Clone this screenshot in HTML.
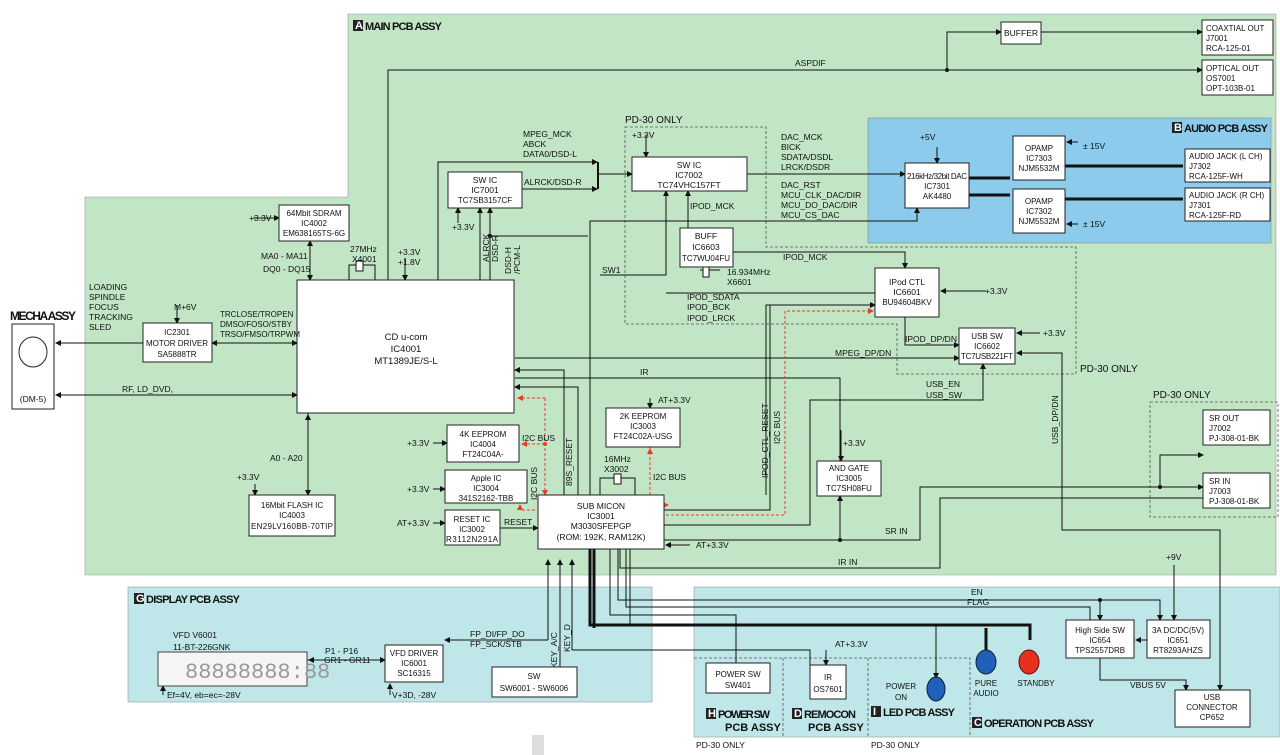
<!DOCTYPE html>
<html><head><meta charset="utf-8"><style>
html,body{margin:0;padding:0;background:#fff;}
svg{display:block;font-family:"Liberation Sans",sans-serif;}
text{font-size:8.5px;fill:#111;}
.s{font-size:8px;}
.b{fill:#fff;stroke:#222;stroke-width:1;}
.l{stroke:#111;stroke-width:1;fill:none;}
.t{stroke:#111;stroke-width:3;fill:none;}
.d{stroke:#555;stroke-width:0.8;stroke-dasharray:3,2;fill:none;}
.r{stroke:#e83a2a;stroke-width:1;stroke-dasharray:3,2;fill:none;}
.h{font-size:11px;font-weight:bold;}
</style></head><body>
<svg width="1280" height="755" viewBox="0 0 1280 755">
<defs>
<marker id="a" markerWidth="6" markerHeight="6" refX="5" refY="3" orient="auto"><path d="M0,0L6,3L0,6z" fill="#111"/></marker>
<marker id="ra" markerWidth="6" markerHeight="6" refX="5" refY="3" orient="auto"><path d="M0,0L6,3L0,6z" fill="#e83a2a"/></marker>
</defs>
<path d="M348,14H1276V575H85V197H348Z" fill="#c1e5c5" stroke="#999" stroke-width="0.6"/>
<rect x="868" y="118" width="403" height="125" fill="#8ccbec" stroke="#888" stroke-width="0.6"/>
<rect x="128" y="587" width="524" height="115" fill="#bfe6e8" stroke="#999" stroke-width="0.6"/>
<rect x="694" y="587" width="586" height="150" fill="#bfe6e8" stroke="#999" stroke-width="0.6"/>
<path class="d" d="M694,658H970V737M783,658V737M868,658V737"/>
<rect x="532" y="735" width="12" height="20" fill="#ddd"/>
<rect x="353" y="20" width="10" height="11" fill="#222"/><text x="355" y="29" class="h" style="fill:#fff">A</text><text x="365" y="30" class="h" textLength="77">MAIN PCB ASSY</text>
<rect x="1172" y="122" width="10" height="11" fill="#222"/><text x="1174" y="131" class="h" style="fill:#fff">B</text><text x="1184" y="132" class="h" textLength="84">AUDIO PCB ASSY</text>
<rect x="134" y="593" width="10" height="11" fill="#222"/><text x="136" y="602" class="h" style="fill:#fff">G</text><text x="146" y="603" class="h" textLength="94">DISPLAY PCB ASSY</text>
<rect x="972" y="717" width="10" height="11" fill="#222"/><text x="974" y="726" class="h" style="fill:#fff">C</text><text x="984" y="727" class="h" textLength="110">OPERATION PCB ASSY</text>
<rect x="706" y="708" width="10" height="11" fill="#222"/><text x="708" y="717" class="h" style="fill:#fff">H</text><text x="718" y="718" class="h" textLength="52">POWER SW</text><text x="725" y="731" class="h">PCB ASSY</text>
<rect x="792" y="708" width="10" height="11" fill="#222"/><text x="794" y="717" class="h" style="fill:#fff">D</text><text x="804" y="718" class="h" textLength="52">REMOCON</text><text x="808" y="731" class="h">PCB ASSY</text>
<rect x="871" y="706" width="10" height="11" fill="#222"/><text x="873" y="715" class="h" style="fill:#fff">I</text><text x="883" y="716" class="h" textLength="72">LED PCB ASSY</text>
<text x="10" y="320" class="h" style="font-size:12px" textLength="66">MECHA ASSY</text>
<text x="696" y="748">PD-30 ONLY</text><text x="871" y="748">PD-30 ONLY</text>
<text x="625" y="123" style="font-size:10px">PD-30 ONLY</text>
<text x="1080" y="372" style="font-size:10px">PD-30 ONLY</text>
<text x="1153" y="398" style="font-size:10px">PD-30 ONLY</text>
<path class="d" d="M625,127H766V247H1076V374H897V324H625Z"/>
<rect class="d" x="1150" y="402" width="128" height="115"/>
<g class="l">
<path d="M388,280V70H1202" marker-end="url(#a)"/>
<path d="M947,70V32H1001" marker-end="url(#a)"/>
<path d="M1041,32H1202" marker-end="url(#a)"/>
<path d="M438,280V162H597" marker-end="url(#a)"/>
<path d="M522,189H597" marker-end="url(#a)"/>
<path d="M598,162V189" style="stroke-width:2"/>
<path d="M598,174H632" marker-end="url(#a)"/>
<path d="M747,174H905" marker-end="url(#a)"/>
<path d="M590,495V221H917V208" marker-end="url(#a)"/>
<path d="M937,147V163" marker-end="url(#a)"/>
<path d="M1078,142H1067" marker-end="url(#a)"/>
<path d="M1078,224H1067" marker-end="url(#a)"/>
<path d="M646,135V157" marker-end="url(#a)"/>
<path d="M600,275H666V191" marker-end="url(#a)"/>
<path d="M875,293H666"/>
<path d="M688,228V191" marker-end="url(#a)"/>
<path d="M733,252H905V268" marker-end="url(#a)"/>
<path d="M986,291H941" marker-end="url(#a)"/>
<path d="M1040,333H1017" marker-end="url(#a)"/>
<path d="M905,317V345H959" marker-end="url(#a)"/>
<path d="M515,358H959" marker-end="url(#a)"/>
<path d="M1062,365V353H1017" marker-end="url(#a)"/>
<path d="M1062,365V530H1220V690" marker-end="url(#a)"/>
<path d="M766,495V305H875" marker-end="url(#a)"/>
<path d="M664,510H770V305"/>
<path d="M515,378H840V461"/>
<path d="M664,525H810V400H983V364" marker-end="url(#a)"/>
<path d="M841,430V461" marker-end="url(#a)"/>
<path d="M664,540H920V487H1203" marker-end="url(#a)"/>
<path d="M1160,487V455H1203" marker-end="url(#a)"/>
<path d="M840,540V496" marker-end="url(#a)"/>
<path d="M1203,498H940V568H620V549"/>
<path d="M578,495V387H515" marker-end="url(#a)"/>
<path d="M564,495V370H515" marker-end="url(#a)"/>
<path d="M310,241V280" marker-end="url(#a)"/><path d="M310,275V241" marker-end="url(#a)"/>
<path d="M253,218H279" marker-end="url(#a)"/>
<path d="M405,258V280" marker-end="url(#a)"/>
<path d="M458,223V208" marker-end="url(#a)"/>
<path d="M480,280V208" marker-end="url(#a)"/>
<path d="M490,280V208" marker-end="url(#a)"/>
<path d="M490,236H588"/>
<path d="M349,280V265H375V280"/><rect x="356" y="261" width="7" height="10" fill="#fff"/>
<path d="M143,343H56" marker-end="url(#a)"/>
<path d="M214,343H297" marker-end="url(#a)"/><path d="M290,343H212" marker-end="url(#a)"/>
<path d="M177,305V323" marker-end="url(#a)"/>
<path d="M60,395H297" marker-end="url(#a)"/><path d="M290,395H56" marker-end="url(#a)"/>
<path d="M308,413V495" marker-end="url(#a)"/><path d="M308,490V415" marker-end="url(#a)"/>
<path d="M255,484V495" marker-end="url(#a)"/>
<path d="M433,443H447" marker-end="url(#a)"/>
<path d="M433,489H445" marker-end="url(#a)"/>
<path d="M433,523H445" marker-end="url(#a)"/>
<path d="M500,528H538" marker-end="url(#a)"/>
<path d="M650,398V408" marker-end="url(#a)"/>
<path d="M600,495V478H635V495"/><rect x="614" y="474" width="7" height="10" fill="#fff"/>
<path d="M690,545H666" marker-end="url(#a)"/>
<path d="M700,270H720"/><rect x="703" y="267" width="6" height="10" fill="#fff"/>
<path d="M548,640V560" marker-end="url(#a)"/>
<path d="M548,640H445" marker-end="url(#a)"/>
<path d="M560,697V560" marker-end="url(#a)"/>
<path d="M572,650V560" marker-end="url(#a)"/>
<path d="M572,650H810V665"/>
<path d="M610,549V615H736V663"/>
<path d="M618,549V600H1160V620" marker-end="url(#a)"/>
<path d="M1100,600V620" marker-end="url(#a)"/>
<path d="M626,549V607H1090V620"/>
<path d="M630,549V625H936V678" marker-end="url(#a)"/>
<path d="M826,650V665" marker-end="url(#a)"/>
<path d="M1174,565V620" marker-end="url(#a)"/>
<path d="M1147,640H1136" marker-end="url(#a)"/>
<path d="M1100,658V680H1186V690" marker-end="url(#a)"/>
<path d="M200,660H385" marker-end="url(#a)"/><path d="M380,660H309" marker-end="url(#a)"/>
<path d="M390,695V684" marker-end="url(#a)"/>
<path d="M163,695V686" marker-end="url(#a)"/>
</g>
<g class="t">
<path d="M590,549V625H1030V640"/>
<path d="M594,549V628"/>
<path d="M986,628V650"/>
<path d="M969,178H1010"/><path d="M969,195H1010"/>
<path d="M1065,166H1183"/><path d="M1065,199H1183"/>
</g>
<g class="r">
<path d="M545,398V495" marker-end="url(#ra)"/>
<path d="M545,398H518" marker-end="url(#ra)"/>
<path d="M545,444H522" marker-end="url(#ra)"/>
<path d="M535,510H520V505" marker-end="url(#ra)"/>
<path d="M650,447V505H668" marker-end="url(#ra)"/>
<path d="M650,485V449" marker-end="url(#ra)"/>
<path d="M666,515H785V311H873" marker-end="url(#ra)"/>
</g>
<g fill="#111"><circle cx="947" cy="70" r="2"/><circle cx="490" cy="236" r="2"/><circle cx="1160" cy="487" r="2"/><circle cx="840" cy="540" r="2"/><circle cx="1100" cy="600" r="2"/><circle cx="545" cy="444" r="2" fill="#e83a2a"/></g>
<g class="b">
<rect x="1001" y="22" width="40" height="22"/>
<rect x="1202" y="20" width="71" height="35"/>
<rect x="1202" y="60" width="71" height="35"/>
<rect x="632" y="157" width="115" height="34"/>
<rect x="448" y="172" width="74" height="36"/>
<rect x="279" y="205" width="70" height="36"/>
<rect x="297" y="280" width="217" height="133"/>
<rect x="143" y="323" width="69" height="39"/>
<rect x="12" y="324" width="42" height="85"/>
<rect x="905" y="163" width="64" height="45"/>
<rect x="1013" y="136" width="52" height="44"/>
<rect x="1013" y="189" width="52" height="44"/>
<rect x="1185" y="149" width="85" height="33"/>
<rect x="1185" y="188" width="85" height="33"/>
<rect x="680" y="228" width="53" height="39"/>
<rect x="875" y="268" width="64" height="49"/>
<rect x="959" y="328" width="56" height="36"/>
<rect x="606" y="408" width="74" height="39"/>
<rect x="447" y="425" width="72" height="37"/>
<rect x="445" y="470" width="82" height="33"/>
<rect x="445" y="510" width="55" height="35"/>
<rect x="538" y="495" width="126" height="54"/>
<rect x="817" y="461" width="64" height="35"/>
<rect x="249" y="495" width="86" height="41"/>
<rect x="1203" y="410" width="67" height="35"/>
<rect x="1203" y="473" width="67" height="35"/>
<rect x="1066" y="620" width="68" height="38"/>
<rect x="1147" y="620" width="63" height="38"/>
<rect x="1175" y="690" width="75" height="37"/>
<rect x="385" y="645" width="58" height="37"/>
<rect x="492" y="667" width="85" height="30"/>
<rect x="706" y="663" width="64" height="30"/>
<rect x="810" y="665" width="36" height="34"/>
<rect x="158" y="652" width="149" height="34" style="fill:#f5f5f5;stroke:#444"/>
</g>
<ellipse cx="33" cy="352" rx="14" ry="15" fill="#fff" stroke="#222"/>
<ellipse cx="936" cy="689" rx="9" ry="12" fill="#2060b8" stroke="#123"/>
<ellipse cx="986" cy="662" rx="10" ry="12" fill="#2060b8" stroke="#123"/>
<ellipse cx="1029" cy="662" rx="10" ry="12" fill="#e8301e" stroke="#511"/>
<text x="185" y="678" style="font-size:22px;fill:#999;font-family:'Liberation Mono'">88888888:88</text>
<g text-anchor="middle">
<text x="1021" y="36">BUFFER</text>
<text x="406" y="340" style="font-size:9.5px">CD u-com</text><text x="406" y="352" style="font-size:9.5px">IC4001</text><text x="406" y="364" style="font-size:9.5px">MT1389JE/S-L</text>
<text x="689" y="168">SW  IC</text><text x="689" y="178">IC7002</text><text x="689" y="188">TC74VHC157FT</text>
<text x="485" y="183">SW  IC</text><text x="485" y="193">IC7001</text><text x="485" y="203" class="s">TC7SB3157CF</text>
<text x="314" y="216" class="s">64Mbit SDRAM</text><text x="314" y="226" class="s">IC4002</text><text x="314" y="236" class="s">EM638165TS-6G</text>
<text x="177" y="335" class="s">IC2301</text><text x="177" y="346" class="s">MOTOR DRIVER</text><text x="177" y="357" class="s">SA5888TR</text>
<text x="33" y="402">(DM-5)</text>
<text x="937" y="179" class="s" textLength="60">216kHz/32bit DAC</text><text x="937" y="189" class="s">IC7301</text><text x="937" y="199" class="s">AK4480</text>
<text x="1039" y="151" class="s">OPAMP</text><text x="1039" y="161" class="s">IC7303</text><text x="1039" y="171" class="s">NJM5532M</text>
<text x="1039" y="204" class="s">OPAMP</text><text x="1039" y="214" class="s">IC7302</text><text x="1039" y="224" class="s">NJM5532M</text>
<text x="706" y="239">BUFF</text><text x="706" y="250">IC6603</text><text x="706" y="261" class="s">TC7WU04FU</text>
<text x="907" y="285">IPod CTL</text><text x="907" y="295">IC6601</text><text x="907" y="305" class="s">BU94604BKV</text>
<text x="987" y="339" class="s">USB SW</text><text x="987" y="349" class="s">IC6602</text><text x="987" y="359" class="s" textLength="52">TC7USB221FT</text>
<text x="643" y="419" class="s">2K EEPROM</text><text x="643" y="429" class="s">IC3003</text><text x="643" y="439" class="s">FT24C02A-USG</text>
<text x="483" y="437" class="s">4K EEPROM</text><text x="483" y="447" class="s">IC4004</text><text x="483" y="457" class="s">FT24C04A-</text>
<text x="486" y="481" class="s">Apple IC</text><text x="486" y="491" class="s">IC3004</text><text x="486" y="501" class="s">341S2162-TBB</text>
<text x="472" y="522" class="s">RESET IC</text><text x="472" y="532" class="s">IC3002</text><text x="472" y="542" class="s" textLength="52">R3112N291A</text>
<text x="601" y="509">SUB MICON</text><text x="601" y="519">IC3001</text><text x="601" y="529">M3030SFEPGP</text><text x="601" y="540">(ROM: 192K, RAM12K)</text>
<text x="849" y="471" class="s">AND GATE</text><text x="849" y="481" class="s">IC3005</text><text x="849" y="491" class="s">TC7SH08FU</text>
<text x="292" y="508" class="s">16Mbit FLASH IC</text><text x="292" y="518" class="s">IC4003</text><text x="292" y="529" class="s" textLength="82">EN29LV160BB-70TIP</text>
<text x="1100" y="633" class="s">High Side SW</text><text x="1100" y="643" class="s">IC654</text><text x="1100" y="653" class="s">TPS2557DRB</text>
<text x="1178" y="633" class="s">3A DC/DC(5V)</text><text x="1178" y="643" class="s">IC651</text><text x="1178" y="653" class="s">RT8293AHZS</text>
<text x="1212" y="700" class="s">USB</text><text x="1212" y="710" class="s">CONNECTOR</text><text x="1212" y="720" class="s">CP652</text>
<text x="414" y="656" class="s">VFD DRIVER</text><text x="414" y="666" class="s">IC6001</text><text x="414" y="676" class="s">SC16315</text>
<text x="534" y="679" class="s">SW</text><text x="534" y="691" class="s">SW6001 - SW6006</text>
<text x="738" y="677" class="s">POWER SW</text><text x="738" y="688" class="s">SW401</text>
<text x="828" y="680" class="s">IR</text><text x="828" y="692" class="s">OS7601</text>
<text x="901" y="689" class="s">POWER</text><text x="901" y="700" class="s">ON</text>
<text x="986" y="686" class="s">PURE</text><text x="986" y="696" class="s">AUDIO</text>
<text x="1036" y="686" class="s">STANDBY</text>
</g>
<g class="s">
<text x="1206" y="31" class="s">COAXTIAL OUT</text><text x="1206" y="41" class="s">J7001</text><text x="1206" y="51" class="s">RCA-125-01</text>
<text x="1206" y="71" class="s">OPTICAL OUT</text><text x="1206" y="81" class="s">OS7001</text><text x="1206" y="91" class="s">OPT-103B-01</text>
<text x="1189" y="159" class="s">AUDIO JACK (L CH)</text><text x="1189" y="169" class="s">J7302</text><text x="1189" y="179" class="s">RCA-125F-WH</text>
<text x="1189" y="198" class="s">AUDIO JACK (R CH)</text><text x="1189" y="208" class="s">J7301</text><text x="1189" y="218" class="s">RCA-125F-RD</text>
<text x="1209" y="421" class="s">SR  OUT</text><text x="1209" y="431" class="s">J7002</text><text x="1209" y="441" class="s">PJ-308-01-BK</text>
<text x="1209" y="484" class="s">SR  IN</text><text x="1209" y="494" class="s">J7003</text><text x="1209" y="504" class="s">PJ-308-01-BK</text>
</g>
<g>
<text x="795" y="66">ASPDIF</text>
<text x="523" y="137">MPEG_MCK</text><text x="523" y="147">ABCK</text><text x="523" y="157">DATA0/DSD-L</text>
<text x="524" y="185">ALRCK/DSD-R</text>
<text x="781" y="140">DAC_MCK</text><text x="781" y="150">BICK</text><text x="781" y="160">SDATA/DSDL</text><text x="781" y="170">LRCK/DSDR</text>
<text x="781" y="188">DAC_RST</text><text x="781" y="198">MCU_CLK_DAC/DIR</text><text x="781" y="208">MCU_DO_DAC/DIR</text><text x="781" y="218">MCU_CS_DAC</text>
<text x="920" y="140">+5V</text><text x="1083" y="149">± 15V</text><text x="1083" y="227">± 15V</text>
<text x="632" y="138">+3.3V</text>
<text x="690" y="209">IPOD_MCK</text>
<text x="783" y="260">IPOD_MCK</text>
<text x="727" y="275">16.934MHz</text><text x="727" y="285">X6601</text>
<text x="687" y="300">IPOD_SDATA</text><text x="687" y="310">IPOD_BCK</text><text x="687" y="321">IPOD_LRCK</text>
<text x="602" y="273">SW1</text>
<text x="985" y="294">+3.3V</text>
<text x="1043" y="336">+3.3V</text>
<text x="905" y="342">IPOD_DP/DN</text>
<text x="835" y="356">MPEG_DP/DN</text>
<text x="640" y="375">IR</text>
<text x="926" y="387">USB_EN</text><text x="926" y="398">USB_SW</text>
<text x="658" y="403">AT+3.3V</text>
<text x="843" y="446">+3.3V</text>
<text x="604" y="462">16MHz</text><text x="604" y="472">X3002</text>
<text x="653" y="480">I2C BUS</text>
<text x="696" y="548">AT+3.3V</text>
<text x="885" y="534">SR IN</text>
<text x="838" y="565">IR IN</text>
<text x="1166" y="560">+9V</text>
<text x="971" y="595">EN</text><text x="967" y="605">FLAG</text>
<text x="1130" y="688">VBUS 5V</text>
<text x="835" y="647">AT+3.3V</text>
<text x="249" y="221">+3.3V</text>
<text x="261" y="259">MA0 - MA11</text><text x="263" y="272">DQ0 - DQ15</text>
<text x="350" y="252">27MHz</text><text x="352" y="262">X4001</text>
<text x="398" y="255">+3.3V</text><text x="398" y="265">+1.8V</text>
<text x="452" y="230">+3.3V</text>
<text x="89" y="290">LOADING</text><text x="89" y="300">SPINDLE</text><text x="89" y="310">FOCUS</text><text x="89" y="320">TRACKING</text><text x="89" y="330">SLED</text>
<text x="174" y="310">M+6V</text>
<text x="220" y="317" class="s">TRCLOSE/TROPEN</text><text x="220" y="327" class="s">DMSO/FOSO/STBY</text><text x="220" y="337" class="s">TRSO/FMSO/TRPWM</text>
<text x="122" y="392">RF, LD_DVD,</text>
<text x="270" y="461">A0 - A20</text>
<text x="237" y="480">+3.3V</text>
<text x="407" y="446">+3.3V</text><text x="407" y="492">+3.3V</text><text x="397" y="526">AT+3.3V</text>
<text x="504" y="525">RESET</text>
<text x="522" y="441">I2C BUS</text>
<text x="173" y="638">VFD   V6001</text><text x="173" y="650">11-BT-226GNK</text>
<text x="325" y="654">P1 - P16</text><text x="324" y="663">GR1 - GR11</text>
<text x="167" y="698">Ef=4V, eb=ec=-28V</text>
<text x="392" y="698">V+3D, -28V</text>
<text x="470" y="637">FP_DI/FP_DO</text><text x="470" y="647">FP_SCK/STB</text>
</g>
<g>
<text transform="translate(489,262) rotate(-90)">ALRCK</text>
<text transform="translate(498,262) rotate(-90)">DSD-R</text>
<text transform="translate(511,274) rotate(-90)">DSD-H</text>
<text transform="translate(520,274) rotate(-90)">/PCM-L</text>
<text transform="translate(572,486) rotate(-90)">89S_RESET</text>
<text transform="translate(537,500) rotate(-90)">I2C BUS</text>
<text transform="translate(768,478) rotate(-90)">IPOD_CTL_RESET</text>
<text transform="translate(780,444) rotate(-90)">I2C BUS</text>
<text transform="translate(1058,444) rotate(-90)">USB_DP/DN</text>
<text transform="translate(557,668) rotate(-90)">KEY_A/C</text>
<text transform="translate(570,652) rotate(-90)">KEY_D</text>
</g>
</svg>
</body></html>
